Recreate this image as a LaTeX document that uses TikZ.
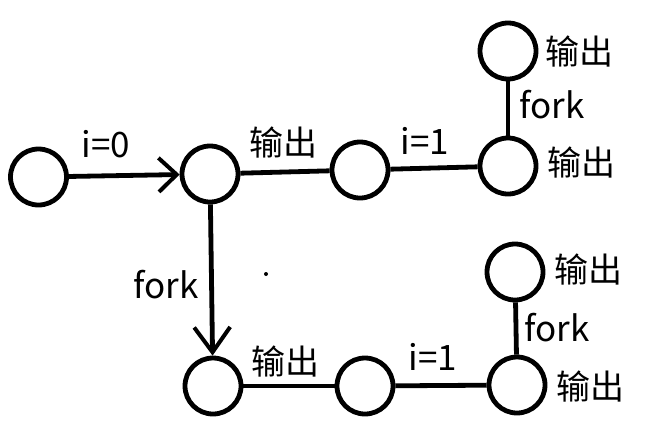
\documentclass[tikz,border=0pt]{standalone}
\usepackage{fontspec}
\setmainfont{Noto Sans CJK SC}
\usetikzlibrary{arrows.meta}
\tikzset{
  st/.style={circle,draw,line width=4.8pt,minimum size=56pt,inner sep=0pt},
  conn/.style={line width=4.8pt},
  lbl/.style={font=\fontsize{34}{38}\selectfont,inner sep=0pt,anchor=center},
  lat/.style={font=\fontsize{35}{38}\selectfont,inner sep=0pt,anchor=center},
  barb/.style={-{Straight Barb[length=18pt,width=34pt,line width=4pt]}}
}
\begin{document}
\begin{tikzpicture}[x=1pt,y=-1pt]
\useasboundingbox (0,0) rectangle (652,429);
\node[st] (A) at (38.5,177) {};
\node[st] (B) at (210,174) {};
\node[st] (C) at (360,170) {};
\node[st] (D) at (508,166) {};
\node[st] (E) at (508,51) {};
\node[st] (F) at (213,386) {};
\node[st] (G) at (365,386) {};
\node[st] (H) at (517,385) {};
\node[st] (I) at (515,272) {};
\draw[conn,barb] (A) -- (B);
\draw[conn] (B) -- (C);
\draw[conn] (C) -- (D);
\draw[conn] (D) -- (E);
\draw[conn,-{Straight Barb[length=25pt,width=36pt,line width=4pt]}] (B) -- (F);
\draw[conn] (F) -- (G);
\draw[conn] (G) -- (H);
\draw[conn] (H) -- (I);
\node[lat] (l1) at (106,144) {i=0};
\node[lbl] (l2) at (283,143) {输出};
\node[lat] (l3) at (425,141) {i=1};
\node[lat] (l4) at (552,105) {fork};
\node[lbl] (l5) at (579,52) {输出};
\node[lbl] (l6) at (581,163) {输出};
\node[lat] (l7) at (166,285) {fork};
\node[lbl] (l8) at (285,362) {输出};
\node[lat] (l9) at (433,357) {i=1};
\node[lbl] (l10) at (588,270) {输出};
\node[lat] (l11) at (557,328) {fork};
\node[lbl] (l12) at (590,387) {输出};
\fill (266,274) circle (2pt);
\end{tikzpicture}
\end{document}
